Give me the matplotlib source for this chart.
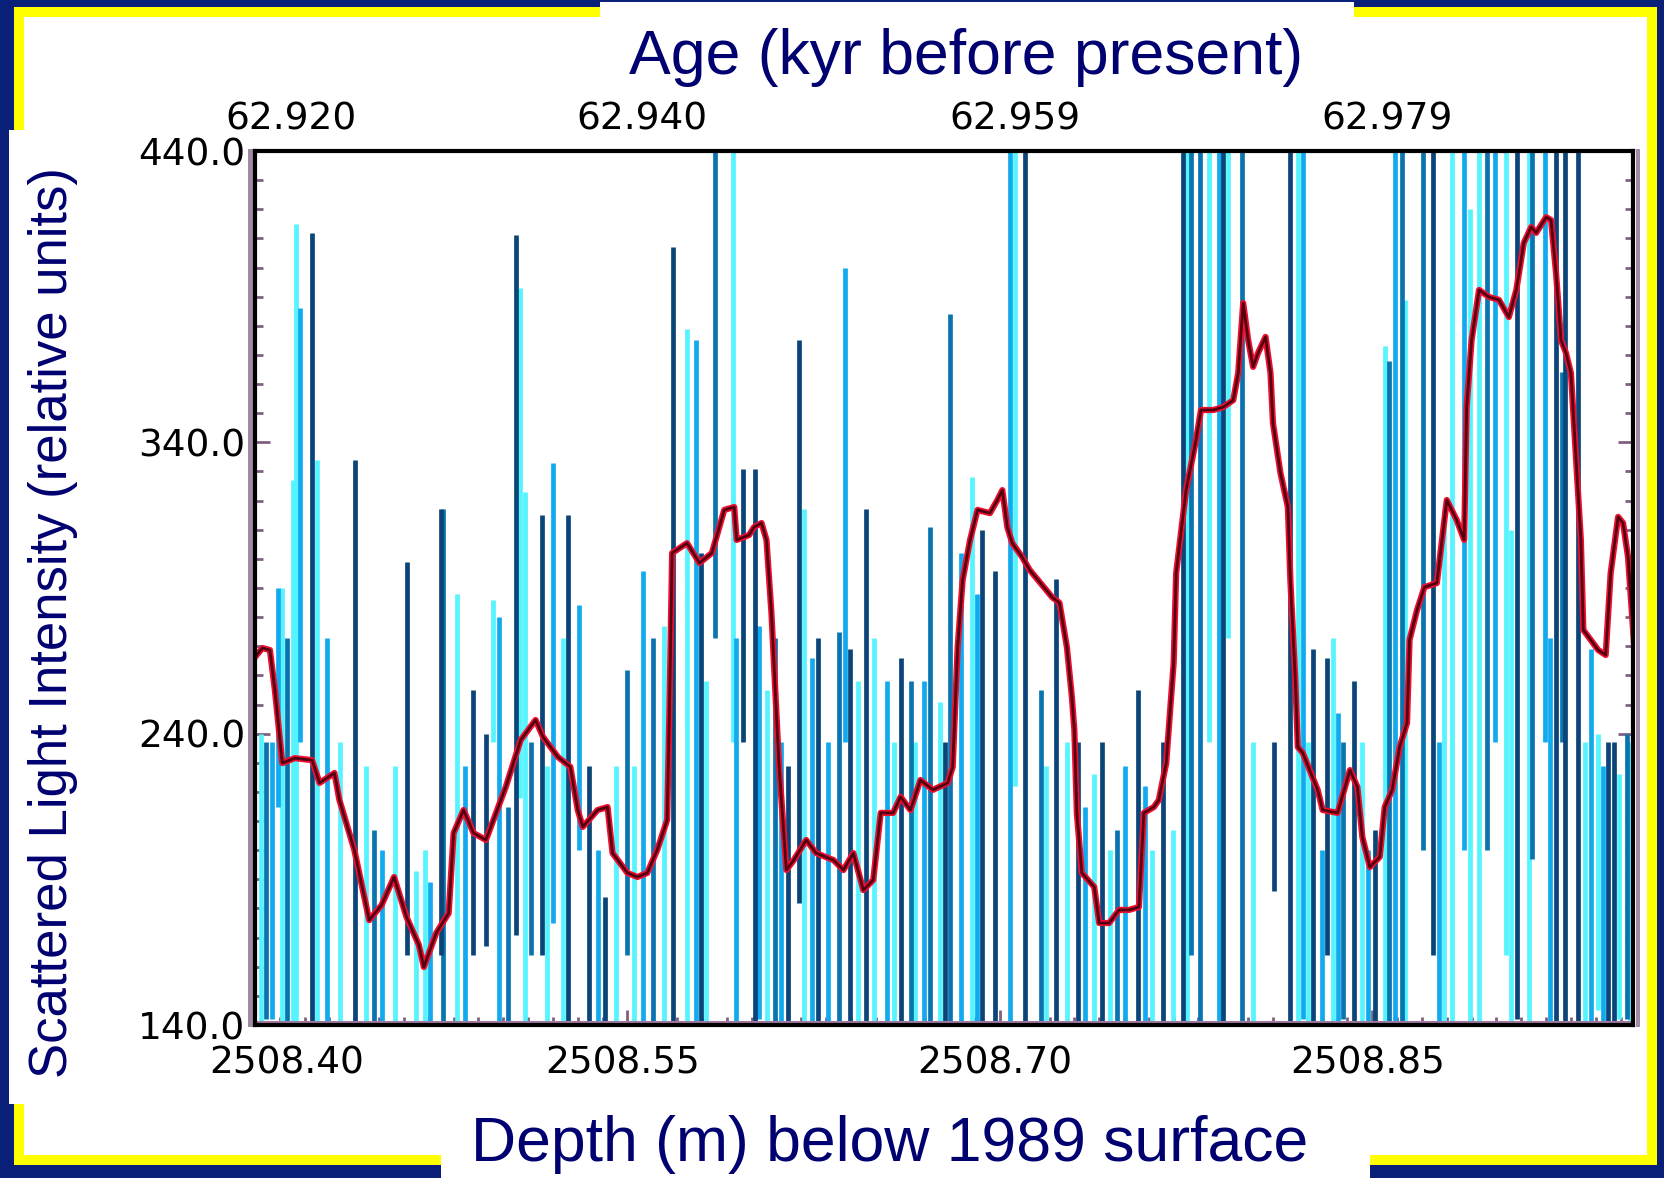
import matplotlib.pyplot as plt
from matplotlib.patches import Rectangle
from matplotlib.ticker import FixedLocator, MultipleLocator, FormatStrFormatter
from matplotlib.transforms import ScaledTranslation

# smoothed scattered-light record (red curve)
smooth_depth = [
    2508.400, 2508.403, 2508.406, 2508.408, 2508.411, 2508.416, 2508.423, 2508.426, 2508.432, 2508.434,
    2508.440, 2508.446, 2508.451, 2508.456, 2508.461, 2508.466, 2508.468, 2508.473, 2508.478, 2508.480,
    2508.484, 2508.488, 2508.493, 2508.501, 2508.507, 2508.513, 2508.516, 2508.522, 2508.527, 2508.530,
    2508.532, 2508.538, 2508.542, 2508.544, 2508.550, 2508.554, 2508.558, 2508.562, 2508.566, 2508.567,
    2508.568, 2508.574, 2508.579, 2508.584, 2508.589, 2508.593, 2508.594, 2508.599, 2508.601, 2508.604,
    2508.606, 2508.608, 2508.611, 2508.614, 2508.617, 2508.622, 2508.626, 2508.633, 2508.637, 2508.641,
    2508.645, 2508.649, 2508.652, 2508.657, 2508.660, 2508.664, 2508.668, 2508.673, 2508.679, 2508.681,
    2508.683, 2508.685, 2508.688, 2508.691, 2508.696, 2508.699, 2508.701, 2508.703, 2508.705, 2508.709,
    2508.712, 2508.717, 2508.721, 2508.724, 2508.727, 2508.729, 2508.730, 2508.731, 2508.733, 2508.738,
    2508.740, 2508.744, 2508.748, 2508.752, 2508.756, 2508.758, 2508.762, 2508.764, 2508.767, 2508.770,
    2508.771, 2508.775, 2508.779, 2508.781, 2508.786, 2508.790, 2508.794, 2508.796, 2508.798, 2508.800,
    2508.802, 2508.804, 2508.807, 2508.809, 2508.810, 2508.813, 2508.816, 2508.817, 2508.819, 2508.820,
    2508.822, 2508.828, 2508.830, 2508.836, 2508.841, 2508.844, 2508.846, 2508.849, 2508.853, 2508.855,
    2508.858, 2508.861, 2508.864, 2508.865, 2508.868, 2508.871, 2508.876, 2508.880, 2508.884, 2508.887,
    2508.888, 2508.890, 2508.893, 2508.897, 2508.901, 2508.905, 2508.908, 2508.911, 2508.914, 2508.916,
    2508.920, 2508.922, 2508.924, 2508.926, 2508.928, 2508.930, 2508.932, 2508.934, 2508.935, 2508.941,
    2508.944, 2508.946, 2508.949, 2508.951, 2508.953, 2508.956,
]
smooth_value = [
    266.3, 269.4, 268.7, 255.0, 229.9, 231.6, 230.9, 223.1, 226.5, 217.2,
    200.1, 176.0, 181.2, 190.8, 177.1, 167.5, 159.9, 171.6, 178.4, 205.9,
    213.8, 205.9, 203.5, 221.7, 237.8, 244.7, 238.9, 232.0, 228.6, 213.8,
    208.0, 213.8, 214.8, 199.0, 192.2, 190.8, 192.2, 200.1, 210.4, 251.6,
    302.0, 305.4, 298.6, 302.0, 316.8, 317.8, 306.5, 308.2, 310.9, 312.3,
    306.5, 281.4, 229.9, 193.2, 196.6, 203.5, 199.0, 196.6, 193.2, 199.0,
    186.3, 189.8, 212.8, 212.8, 218.3, 213.8, 224.1, 220.7, 223.1, 228.6,
    269.7, 292.7, 306.5, 316.8, 315.7, 320.2, 323.6, 310.9, 305.4, 300.6,
    296.2, 291.0, 286.9, 284.9, 269.7, 252.6, 241.3, 212.8, 192.2, 187.4,
    175.0, 175.0, 179.5, 179.5, 180.5, 212.8, 214.8, 217.2, 229.9, 264.3,
    295.1, 323.6, 340.8, 351.1, 351.1, 352.1, 354.5, 363.8, 387.8, 375.1,
    365.9, 370.7, 376.2, 363.8, 346.6, 329.5, 317.8, 292.7, 258.4, 235.4,
    233.4, 220.7, 213.8, 212.8, 227.5, 221.7, 204.5, 194.2, 197.7, 214.8,
    220.7, 235.4, 243.7, 272.2, 282.4, 290.3, 291.7, 320.2, 313.3, 306.5,
    352.1, 375.1, 392.3, 389.9, 388.9, 383.0, 392.3, 408.4, 413.9, 411.9,
    417.3, 416.3, 398.1, 375.1, 370.7, 363.8, 335.0, 306.5, 275.6, 268.7,
    267.0, 295.1, 314.4, 312.3, 300.6, 263.6,
]

# raw record, shown as vertical strokes in four shades of blue
cyan_depth = [2508.4026, 2508.4107, 2508.4154, 2508.4167, 2508.4248, 2508.4342, 2508.4449, 2508.4564,
              2508.4684, 2508.4812, 2508.4958, 2508.5069, 2508.5086, 2508.5240, 2508.5454, 2508.5646,
              2508.5740, 2508.5924, 2508.6211, 2508.6493, 2508.6758, 2508.6886, 2508.7062, 2508.7186,
              2508.7271, 2508.7378, 2508.7442, 2508.7613, 2508.7699, 2508.7754, 2508.7844, 2508.7917,
              2508.8019, 2508.8199, 2508.8340, 2508.8460, 2508.8550, 2508.8631, 2508.8789, 2508.8819,
              2508.8892, 2508.8930, 2508.9037, 2508.9131, 2508.9409, 2508.9495,
              2508.4650, 2508.5176, 2508.5527, 2508.5817, 2508.6061, 2508.6429, 2508.6574, 2508.6660,
              2508.8242, 2508.9058, 2508.9358, 2508.9537]
cyan_low = [135, 135, 135, 135, 135, 135, 135, 135, 135, 135, 237, 218, 135, 135, 135, 135,
            135, 237, 135, 135, 135, 135, 222, 135, 135, 135, 135, 135, 135, 135, 237, 273,
            135, 135, 135, 135, 135, 135, 135, 135, 135, 135, 164, 135, 145, 142,
            135, 135, 135, 135, 135, 135, 135, 135, 135, 135, 135, 135]
cyan_high = [240, 290, 327, 415, 334, 237, 229, 229, 200, 288, 286, 393, 323, 273, 229, 277,
             379, 445, 317, 273, 251, 328, 445, 229, 237, 226, 200, 200, 207, 445, 445, 445,
             237, 445, 273, 237, 373, 389, 317, 445, 420, 445, 445, 445, 240, 226,
             193, 229, 229, 258, 255, 258, 237, 237, 237, 310, 237, 237]

sky_depth = [2508.4094, 2508.4180, 2508.4513, 2508.4706, 2508.4983, 2508.5202, 2508.5304, 2508.5561,
             2508.5775, 2508.5937, 2508.6031, 2508.6309, 2508.6377, 2508.6544, 2508.6694, 2508.6844,
             2508.7040, 2508.7506, 2508.7883, 2508.8220, 2508.8297, 2508.8593, 2508.8870, 2508.8994,
             2508.9195, 2508.9379,
             2508.4068, 2508.4291, 2508.4847, 2508.5381, 2508.6117, 2508.6245, 2508.6908, 2508.7344,
             2508.7583, 2508.8361, 2508.8481, 2508.8768, 2508.9216, 2508.9430]
sky_low = [215, 237, 135, 135, 135, 175, 200, 135, 135, 135, 142, 135, 237, 135, 135, 135,
           135, 135, 135, 142, 135, 135, 200, 237, 237, 135,
           142, 135, 135, 135, 135, 135, 135, 135, 135, 135, 135, 135, 135, 135]
sky_high = [290, 386, 200, 189, 280, 333, 284, 296, 375, 273, 277, 237, 400, 258, 258, 302,
            445, 229, 445, 445, 200, 445, 445, 445, 445, 269,
            237, 273, 229, 200, 237, 266, 288, 215, 222, 247, 200, 237, 273, 229]

steel_depth = [2508.4043, 2508.4128, 2508.4757, 2508.5112, 2508.5497, 2508.5604, 2508.5852, 2508.6095,
               2508.6352, 2508.6643, 2508.6720, 2508.6801, 2508.7164, 2508.7771, 2508.7806, 2508.7977,
               2508.8383, 2508.8567, 2508.8618, 2508.8704, 2508.8960, 2508.9144, 2508.9264, 2508.9524,
               2508.4479, 2508.5018, 2508.7472]
steel_low = [142, 135, 135, 164, 164, 135, 273, 135, 135, 135, 135, 135, 135, 164, 135, 135,
             142, 135, 135, 200, 200, 197, 237, 142,
             135, 135, 135]
steel_high = [237, 273, 317, 237, 262, 273, 445, 273, 275, 258, 311, 384, 255, 445, 445, 445,
              237, 368, 445, 445, 445, 445, 364, 240,
              207, 215, 207]

navy_depth = [2508.4231, 2508.4402, 2508.4611, 2508.4748, 2508.4877, 2508.4932, 2508.5052, 2508.5155,
              2508.5261, 2508.5347, 2508.5411, 2508.5685, 2508.5796, 2508.5967, 2508.6014, 2508.6147,
              2508.6190, 2508.6266, 2508.6395, 2508.6459, 2508.6600, 2508.6929, 2508.6980, 2508.7100,
              2508.7228, 2508.7314, 2508.7412, 2508.7558, 2508.7656, 2508.7737, 2508.7900, 2508.8105,
              2508.8169, 2508.8263, 2508.8426, 2508.8511, 2508.8746, 2508.9084, 2508.9238, 2508.9277,
              2508.9328, 2508.9451,
              2508.6779, 2508.8319, 2508.9473]
navy_low = [135, 135, 164, 164, 164, 167, 171, 164, 135, 135, 135, 135, 135, 237, 135, 135,
            182, 135, 135, 135, 135, 135, 135, 135, 135, 135, 135, 135, 135, 135, 135, 186,
            135, 135, 135, 135, 164, 142, 135, 135, 135, 135,
            135, 164, 135]
navy_high = [412, 334, 299, 317, 255, 240, 411, 315, 315, 229, 184, 407, 302, 331, 331, 229,
             375, 273, 269, 317, 266, 310, 296, 445, 293, 237, 237, 255, 237, 445, 445, 237,
             445, 269, 258, 207, 445, 445, 445, 445, 445, 237,
             237, 266, 237]

depth_ticks = [2508.40, 2508.55, 2508.70, 2508.85]
age_labels = ["62.920", "62.940", "62.959", "62.979"]
value_ticks = [140.0, 240.0, 340.0, 440.0]

NAVY_TEXT = "#000070"
W, H = 1665, 1178

fig = plt.figure(figsize=(W / 100, H / 100), dpi=100)
fig.patch.set_facecolor("#0a1f78")

# slide frame, drawn in pixel units on a background axes
bg = fig.add_axes([0, 0, 1, 1], zorder=0)
bg.set_xlim(0, W)
bg.set_ylim(H, 0)
bg.axis("off")
bg.add_patch(Rectangle((14, 7), 1643, 1158, facecolor="#ffff00", edgecolor="none"))
bg.add_patch(Rectangle((24, 17), 1623, 1138, facecolor="white", edgecolor="none"))
bg.add_patch(Rectangle((600, 2), 754, 40, facecolor="white", edgecolor="none"))
bg.add_patch(Rectangle((9, 130), 40, 974, facecolor="white", edgecolor="none"))
bg.add_patch(Rectangle((441, 1140), 929, 40, facecolor="white", edgecolor="none"))
# purple fringe beside the axis lines
bg.add_patch(Rectangle((248, 149), 5, 878, facecolor="#a08aa6", edgecolor="none"))
bg.add_patch(Rectangle((1636, 149), 4, 878, facecolor="#a08aa6", edgecolor="none"))

ax = fig.add_axes([255 / W, 1 - 1025 / H, 1378 / W, 874 / H], zorder=2)
ax.set_facecolor("white")

STROKE = 3.4
ax.vlines(cyan_depth, cyan_low, cyan_high, colors="#55f4ff", linewidth=STROKE)
ax.vlines(sky_depth, sky_low, sky_high, colors="#12aaee", linewidth=STROKE)
ax.vlines(steel_depth, steel_low, steel_high, colors="#0a74b0", linewidth=STROKE)
ax.vlines(navy_depth, navy_low, navy_high, colors="#0a4478", linewidth=STROKE)

ax.plot(smooth_depth, smooth_value, color="#ee1030", linewidth=4.5)
ax.plot(smooth_depth, smooth_value, color="#520012", linewidth=2.0)

ax.plot([0, 1], [0.004, 0.004], transform=ax.transAxes, color="#a078a0", linewidth=2.2)

ax.set_xlim(2508.40, 2508.955)
ax.set_ylim(140, 440)

for side in ax.spines.values():
    side.set_color("black")
    side.set_linewidth(3.0)

tick_font = {"family": "DejaVu Sans", "size": 27}
ax.xaxis.set_major_locator(FixedLocator(depth_ticks))
ax.xaxis.set_major_formatter(FormatStrFormatter("%.2f"))
ax.xaxis.set_minor_locator(MultipleLocator(0.01))
ax.yaxis.set_major_locator(FixedLocator(value_ticks))
ax.yaxis.set_major_formatter(FormatStrFormatter("%.1f"))
ax.yaxis.set_minor_locator(MultipleLocator(10))
ax.tick_params(which="both", direction="in", top=True, right=True, color="#806080", width=2)
ax.tick_params(which="major", length=11)
ax.tick_params(which="minor", length=6)
ax.tick_params(axis="x", which="major", pad=15)
ax.tick_params(axis="y", which="major", pad=7)
for lab in ax.get_xticklabels() + ax.get_yticklabels():
    lab.set_fontfamily(tick_font["family"])
    lab.set_fontsize(tick_font["size"])

# depth labels: the first sits to the right of its tick
for i, lab in enumerate(ax.get_xticklabels()):
    shift = 0.32 if i == 0 else -0.05
    lab.set_transform(lab.get_transform() + ScaledTranslation(shift, 0, fig.dpi_scale_trans))

# age axis along the top
top = ax.twiny()
top.set_xlim(ax.get_xlim())
top.xaxis.set_major_locator(FixedLocator(depth_ticks))
top.set_xticklabels(age_labels, fontfamily=tick_font["family"], fontsize=tick_font["size"])
top.tick_params(axis="x", length=0, pad=10)
for side in top.spines.values():
    side.set_visible(False)
for i, lab in enumerate(top.get_xticklabels()):
    shift = 0.36 if i == 0 else 0.15
    lab.set_transform(lab.get_transform() + ScaledTranslation(shift, 0, fig.dpi_scale_trans))

title_font = {"family": "Liberation Sans", "color": NAVY_TEXT}
bg.text(966, 74, "Age (kyr before present)", fontsize=45, ha="center", va="baseline", **title_font)
bg.text(890, 1161, "Depth (m) below 1989 surface", fontsize=45, ha="center", va="baseline", **title_font)
bg.text(53, 623, "Scattered Light Intensity (relative units)", fontsize=38, rotation=90,
        ha="center", va="center", **title_font)

fig.savefig("out.png", dpi=100, facecolor=fig.get_facecolor())
